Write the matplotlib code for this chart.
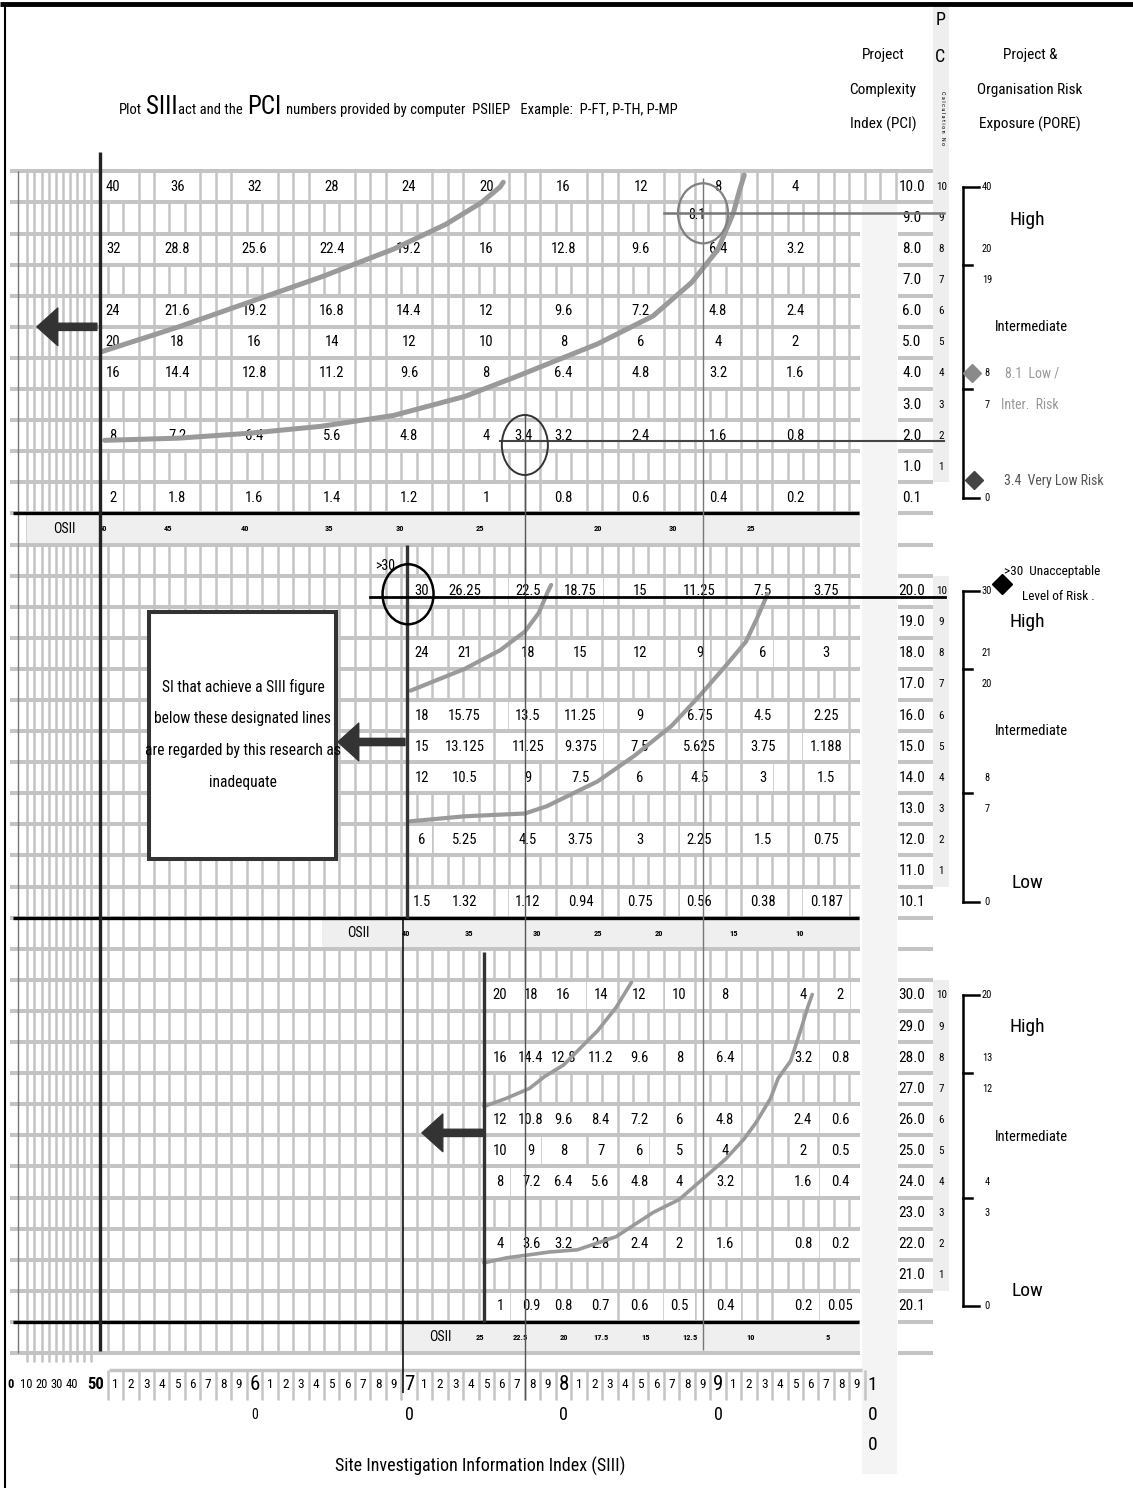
import numpy as np
import matplotlib
matplotlib.use('Agg')
import matplotlib.pyplot as plt
import matplotlib.transforms as mtransforms
from matplotlib import font_manager
from matplotlib.patches import Rectangle, Ellipse

avail = {f.name for f in font_manager.fontManager.ttflist}
FONT = next((f for f in ['Liberation Sans Narrow', 'Roboto Condensed', 'Arial Narrow',
                         'Liberation Sans'] if f in avail), 'DejaVu Sans')
plt.rcParams['font.family'] = [FONT, 'DejaVu Sans']

# ---------------- data ----------------
# cell tables: column positions on the SIII scale, PCI rows, values
top_cols = [50.85, 55, 60, 65, 70, 75, 80, 85, 90, 95]
top_rows = [10, 8, 6, 5, 4, 2, 0.1]
top_vals = [
    ['40', '36', '32', '28', '24', '20', '16', '12', '8', '4'],
    ['32', '28.8', '25.6', '22.4', '19.2', '16', '12.8', '9.6', '6.4', '3.2'],
    ['24', '21.6', '19.2', '16.8', '14.4', '12', '9.6', '7.2', '4.8', '2.4'],
    ['20', '18', '16', '14', '12', '10', '8', '6', '4', '2'],
    ['16', '14.4', '12.8', '11.2', '9.6', '8', '6.4', '4.8', '3.2', '1.6'],
    ['8', '7.2', '6.4', '5.6', '4.8', '4', '3.2', '2.4', '1.6', '0.8'],
    ['2', '1.8', '1.6', '1.4', '1.2', '1', '0.8', '0.6', '0.4', '0.2'],
]
mid_cols = [70.85, 73.6, 77.7, 81.1, 84.95, 88.8, 92.9, 97.0]
mid_rows = [20, 18, 16, 15, 14, 12, 10.1]
mid_vals = [
    ['30', '26.25', '22.5', '18.75', '15', '11.25', '7.5', '3.75'],
    ['24', '21', '18', '15', '12', '9', '6', '3'],
    ['18', '15.75', '13.5', '11.25', '9', '6.75', '4.5', '2.25'],
    ['15', '13.125', '11.25', '9.375', '7.5', '5.625', '3.75', '1.188'],
    ['12', '10.5', '9', '7.5', '6', '4.5', '3', '1.5'],
    ['6', '5.25', '4.5', '3.75', '3', '2.25', '1.5', '0.75'],
    ['1.5', '1.32', '1.12', '0.94', '0.75', '0.56', '0.38', '0.187'],
]
bot_cols = [75.9, 77.9, 80.0, 82.4, 84.9, 87.5, 90.45, 95.5, 97.9]
bot_rows = [30, 28, 26, 25, 24, 22, 20.1]
bot_vals = [
    ['20', '18', '16', '14', '12', '10', '8', '4', '2'],
    ['16', '14.4', '12.8', '11.2', '9.6', '8', '6.4', '3.2', '0.8'],
    ['12', '10.8', '9.6', '8.4', '7.2', '6', '4.8', '2.4', '0.6'],
    ['10', '9', '8', '7', '6', '5', '4', '2', '0.5'],
    ['8', '7.2', '6.4', '5.6', '4.8', '4', '3.2', '1.6', '0.4'],
    ['4', '3.6', '3.2', '2.8', '2.4', '2', '1.6', '0.8', '0.2'],
    ['1', '0.9', '0.8', '0.7', '0.6', '0.5', '0.4', '0.2', '0.05'],
]

top_pci = ['10.0', '9.0', '8.0', '7.0', '6.0', '5.0', '4.0', '3.0', '2.0', '1.0', '0.1']
mid_pci = ['20.0', '19.0', '18.0', '17.0', '16.0', '15.0', '14.0', '13.0', '12.0', '11.0', '10.1']
bot_pci = ['30.0', '29.0', '28.0', '27.0', '26.0', '25.0', '24.0', '23.0', '22.0', '21.0', '20.1']
calc_no = [10, 9, 8, 7, 6, 5, 4, 3, 2, 1]

top_osii = ['50', '45', '40', '35', '30', '25', '20', '30', '25']
top_osii_x = [50.2, 54.4, 59.4, 64.8, 69.4, 74.6, 82.2, 87.1, 92.1]
mid_osii = ['40', '35', '30', '25', '20', '15', '10']
mid_osii_x = [69.8, 73.9, 78.3, 82.2, 86.2, 91.0, 95.3]
bot_osii = ['25', '22.5', '20', '17.5', '15', '12.5', '10', '5']
bot_osii_x = [74.6, 77.2, 80.0, 82.4, 85.3, 88.2, 92.1, 97.1]

# PORE scales
pore_top = ['40', '20', '19', '8', '7', '0']
pore_top_at = [10, 8, 7, 4, 3, 0]
pore_mid = ['30', '21', '20', '8', '7', '0']
pore_mid_at = [20, 18, 17, 14, 13, 10]
pore_bot = ['20', '13', '12', '4', '3', '0']
pore_bot_at = [30, 28, 27, 24, 23, 20]
cat_top = [('High', 8.94), ('Intermediate', 5.5)]
cat_mid = [('High', 19.0), ('Intermediate', 15.5), ('Low', 10.6)]
cat_bot = [('High', 29.0), ('Intermediate', 25.45), ('Low', 20.5)]

# designated lines (SIII, PCI)
top_hi_s = [50.1, 55.1, 59.7, 64.3, 69.0, 72.4, 74.7, 75.9, 76.1]
top_hi_p = [4.7, 5.5, 6.3, 7.1, 8.0, 8.8, 9.5, 10.0, 10.15]
top_lo_s = [50.3, 55.1, 59.7, 64.3, 69.0, 73.6, 77.1, 79.8, 82.2, 85.8, 88.3, 90.0, 91.0, 91.4, 91.7]
top_lo_p = [1.85, 1.92, 2.08, 2.30, 2.65, 3.26, 3.93, 4.47, 4.95, 5.85, 6.93, 7.99, 9.17, 9.90, 10.38]
mid_hi_s = [70.1, 73.6, 75.9, 77.5, 78.4, 79.0, 79.2]
mid_hi_p = [16.8, 17.5, 18.1, 18.7, 19.3, 20.0, 20.2]
mid_lo_s = [70.1, 73.6, 77.5, 78.9, 82.2, 84.6, 87.0, 88.8, 90.5, 91.8, 92.5, 93.2]
mid_lo_p = [12.6, 12.76, 12.85, 13.08, 13.88, 14.71, 15.67, 16.63, 17.6, 18.37, 19.1, 19.9]
bot_hi_s = [74.85, 76.3, 77.8, 78.8, 80.0, 80.9, 82.2, 83.4, 84.4]
bot_hi_p = [26.43, 26.69, 27.01, 27.4, 27.76, 28.21, 28.86, 29.61, 30.42]
bot_lo_s = [74.85, 76.3, 77.8, 79.1, 80.9, 83.4, 85.8, 87.5, 89.0, 90.5, 91.7, 92.5, 93.4, 93.9,
            94.7, 95.4, 95.8, 96.1]
bot_lo_p = [21.4, 21.56, 21.66, 21.75, 21.82, 22.24, 23.02, 23.44, 24.09, 24.74, 25.39, 25.94,
            26.69, 27.34, 27.89, 28.96, 29.61, 30.03]

# worked examples
ex_top_hi = (88.6, 9, '8.1')      # SIII, PCI, PORE
ex_top_lo = (77.4, 2, '3.4')
ex_mid = (69.9, 20, '30')

siii_units = np.arange(51, 100)
left_ticks = [0, 10, 20, 30, 40]

# ---------------- figure ----------------
GREY = '#c4c4c4'
CURVE = '#9a9a9a'
fig = plt.figure(figsize=(11.33, 14.88), dpi=100)
ax = fig.add_axes([0, 0, 1, 1])
ax.set_xlim(43.53, 116.86)
ax.set_ylim(41.84, -6.01)
ax.axis('off')


def panel(off):
    # PCI value p of a panel sits on layout row off - p
    return mtransforms.Affine2D().scale(1, -1).translate(0, off) + ax.transData


tr_top, tr_mid, tr_bot = panel(10), panel(33), panel(56)

# ---- grid ----
row_edges = np.arange(-0.5, 38, 1.0)
ax.hlines(row_edges, 44.2, 99.2, color=GREY, lw=2.9, zorder=1)
ax.hlines(row_edges, 101.65, 103.9, color=GREY, lw=2.9, zorder=1)
ax.hlines([-0.5, 0.5], 99.2, 101.65, color=GREY, lw=2.9, zorder=1)
ax.vlines(np.arange(50.5, 99, 1.0), -0.5, 37.5, color=GREY, lw=1.8, zorder=1)
ax.vlines([99.5, 100.5, 101.5], -0.5, 0.5, color=GREY, lw=1.8, zorder=1)
ax.vlines(np.linspace(45.3, 49.45, 10), -0.5, 37.8, color=GREY, lw=1.8, zorder=1)
ax.vlines(44.7, -0.5, 37.5, color='#777777', lw=1.0, zorder=1)

# strips
ax.add_patch(Rectangle((99.3, 0.5), 2.3, 40.9, fc='#f4f4f4', ec='none', zorder=0.5))
for y0, y1 in [(-5.8, 9.5), (12.5, 22.5), (25.5, 35.5)]:
    ax.add_patch(Rectangle((103.9, y0), 1.05, y1 - y0, fc='#eeeeee', ec='none', zorder=0.5))

# OSII bands
for x0, yb in [(45.3, 10.55), (64.4, 23.55), (69.7, 36.55)]:
    ax.add_patch(Rectangle((x0, yb), 99.2 - x0, 0.9, fc='#efefef', ec='none', zorder=2))
ax.hlines([10.5, 23.5, 36.5], 44.4, 99.1, color='black', lw=2.4, zorder=3)

for labs, xs, row, lx in [(top_osii, top_osii_x, 11, 47.7), (mid_osii, mid_osii_x, 24, 66.7),
                          (bot_osii, bot_osii_x, 37, 72.0)]:
    ax.text(lx, row, 'OSII', ha='center', va='center', fontsize=10, zorder=4)
    for lab, x in zip(labs, xs):
        ax.text(x, row, lab, ha='center', va='center', fontsize=6, fontweight='bold', zorder=4)

# ---- cells ----
cell_box = dict(boxstyle='square,pad=0.45', fc='white', ec='none')
for tr, cols, rows, vals in [(tr_top, top_cols, top_rows, top_vals),
                             (tr_mid, mid_cols, mid_rows, mid_vals),
                             (tr_bot, bot_cols, bot_rows, bot_vals)]:
    for r, row in zip(rows, vals):
        for s, v in zip(cols, row):
            ax.text(s, np.floor(r), v, transform=tr, ha='center', va='center',
                    fontsize=10.5, zorder=4, bbox=cell_box)

for tr, pcis in [(tr_top, top_pci), (tr_mid, mid_pci), (tr_bot, bot_pci)]:
    for lab in pcis:
        ax.text(102.55, np.floor(float(lab)), lab, transform=tr, ha='center', va='center',
                fontsize=11, zorder=4)
    for n, lab in zip(calc_no, pcis):
        ax.text(104.45, np.floor(float(lab)), str(n), transform=tr, ha='center', va='center',
                fontsize=8, zorder=4)

# ---- designated lines ----
for tr, s, p, lw in [(tr_top, top_hi_s, top_hi_p, 3.6), (tr_top, top_lo_s, top_lo_p, 3.6),
                     (tr_mid, mid_hi_s, mid_hi_p, 3.0), (tr_mid, mid_lo_s, mid_lo_p, 3.0),
                     (tr_bot, bot_hi_s, bot_hi_p, 2.6), (tr_bot, bot_lo_s, bot_lo_p, 2.6)]:
    ax.plot(s, p, transform=tr, color=CURVE, lw=lw, solid_capstyle='round',
            solid_joinstyle='round', zorder=5)

# ---- long guide lines ----
ax.vlines(50, -1.13, 37.45, color='#222222', lw=2.4, zorder=6)
ax.vlines(69.9, 11.5, 23.5, color='#333333', lw=2.4, zorder=6)
ax.vlines(69.64, 23.55, 38.8, color='black', lw=1.1, zorder=6)
ax.vlines(74.85, 24.6, 36.5, color='#333333', lw=2.4, zorder=6)
ax.vlines(89.03, -0.3, 37.4, color='#777777', lw=1.0, zorder=6)
ax.vlines(77.5, 7.3, 39.0, color='#555555', lw=1.0, zorder=6)

# worked examples: circles and reading lines
s, p, lab = ex_top_hi
ax.text(s, p + 0.1, lab, transform=tr_top, ha='center', va='center', fontsize=10, zorder=4)
ax.plot([86.5, 104.6], [p + 0.15, p + 0.15], transform=tr_top, color='#777777', lw=1.8, zorder=6)
ax.add_patch(Ellipse((89.03, p + 0.15), 3.24, 1.93, transform=tr_top, fill=False,
                     ec='#808080', lw=1.6, zorder=6))
s, p, lab = ex_top_lo
ax.text(s, p, lab, transform=tr_top, ha='center', va='center', fontsize=10.5, zorder=4, bbox=cell_box)
ax.plot([75.9, 104.6], [p - 0.17, p - 0.17], transform=tr_top, color='#444444', lw=1.5, zorder=6)
ax.add_patch(Ellipse((77.5, p - 0.3), 2.98, 1.93, transform=tr_top, fill=False,
                     ec='#333333', lw=1.4, zorder=6))
s, p, lab = ex_mid
ax.plot([67.5, 104.7], [p - 0.2, p - 0.2], transform=tr_mid, color='black', lw=2.0, zorder=6)
ax.add_patch(Ellipse((69.94, p - 0.1), 3.3, 1.93, transform=tr_mid, fill=False,
                     ec='black', lw=1.8, zorder=6))
ax.text(68.45, p + 0.8, '>' + lab, transform=tr_mid, ha='center', va='center', fontsize=10, zorder=4)

# arrows
arrow = dict(arrowstyle='simple,head_length=0.75,head_width=1.35,tail_width=0.26',
             color='#333333', shrinkA=0, shrinkB=0, mutation_scale=20)
for tr, x0, x1, y in [(tr_top, 49.8, 45.92, 5.5), (tr_mid, 69.74, 65.4, 15.15),
                      (tr_bot, 74.75, 70.84, 25.58)]:
    ax.annotate('', xy=(x1, y), xytext=(x0, y), xycoords=tr, textcoords=tr,
                arrowprops=arrow, zorder=7)

# explanation box
ax.add_patch(Rectangle((53.2, 11.4), 12.1, 7.93, transform=tr_mid, fc='white',
                       ec='#333333', lw=2.9, zorder=7))
ax.text(59.25, 15.4, 'SI that achieve a SIII figure\nbelow these designated lines\n'
        'are regarded by this research as\ninadequate', transform=tr_mid,
        ha='center', va='center', fontsize=11.2, linespacing=2.4, zorder=8)

# ---- PORE scales ----
for tr, labs, at, cats in [(tr_top, pore_top, pore_top_at, cat_top),
                           (tr_mid, pore_mid, pore_mid_at, cat_mid),
                           (tr_bot, pore_bot, pore_bot_at, cat_bot)]:
    ax.plot([105.85, 105.85], [at[-1], at[0]], transform=tr, color='black', lw=1.8, zorder=4)
    for t in [at[0], at[-1]]:
        ax.plot([105.85, 106.9], [t, t], transform=tr, color='black', lw=1.8, zorder=4)
    for t in [(at[1] + at[2]) / 2, (at[3] + at[4]) / 2]:
        ax.plot([105.85, 106.45], [t, t], transform=tr, color='black', lw=1.8, zorder=4)
    for lab, a in zip(labs, at):
        ax.text(107.4, a, lab, transform=tr, ha='center', va='center', fontsize=7.5, zorder=4)
    for name, p in cats:
        size = 10.5 if name == 'Intermediate' else 14
        ax.text(110.3 if name == 'Intermediate' else 110.0, p, name, transform=tr,
                ha='center', va='center', fontsize=size, zorder=4)

ax.plot(106.44, 4.0, marker='D', ms=9, color='#8a8a8a', transform=tr_top, zorder=5)
ax.text(108.6, 4.0, ex_top_hi[2] + '  Low /', transform=tr_top, ha='left', va='center',
        fontsize=10, color='#999999')
ax.text(108.3, 3.0, 'Inter.  Risk', transform=tr_top, ha='left', va='center', fontsize=10,
        color='#999999')
ax.plot(106.6, 0.58, marker='D', ms=9, color='#444444', transform=tr_top, zorder=5)
ax.text(108.5, 0.55, ex_top_lo[2] + '  Very Low Risk', transform=tr_top, ha='left', va='center',
        fontsize=10, color='#555555')
ax.plot(108.4, 20.24, marker='D', ms=10, color='black', transform=tr_mid, zorder=5)
ax.text(111.6, 20.62, '>' + ex_mid[2] + '  Unacceptable', transform=tr_mid, ha='center',
        va='center', fontsize=9.5)
ax.text(112.0, 19.82, 'Level of Risk .', transform=tr_mid, ha='center', va='center', fontsize=9.5)

# ---- header ----
ax.hlines(-5.88, 43.53, 116.86, color='black', lw=3.5, zorder=6)
ax.vlines(43.85, -5.88, 41.84, color='black', lw=1.5, zorder=6)

renderer = fig.canvas.get_renderer()
x = 51.2
for piece, size, gap in [('Plot', 10.5, 0.3), ('SIII', 18, 0.0), ('act and the', 10.5, 0.3),
                         ('PCI', 18, 0.3),
                         ('numbers provided by computer  PSIIEP   Example:  P-FT, P-TH, P-MP', 10.5, 0)]:
    t = ax.text(x, -2.35, piece, ha='left', va='baseline', fontsize=size)
    bb = t.get_window_extent(renderer=renderer)
    x = ax.transData.inverted().transform((bb.x1, bb.y0))[0] + gap

for k, line in enumerate(['Project', 'Complexity', 'Index (PCI)']):
    ax.text(100.68, -4.24 + 1.12 * k, line, ha='center', va='center', fontsize=11)
for k, line in enumerate(['Project &', 'Organisation Risk', 'Exposure (PORE)']):
    ax.text(110.2, -4.24 + 1.12 * k, line, ha='center', va='center', fontsize=11)
ax.text(104.4, -5.37, 'P', ha='center', va='center', fontsize=13)
ax.text(104.4, -4.18, 'C', ha='center', va='center', fontsize=13)
ax.text(104.55, -2.2, 'C a l c u l a t i o n   N o', ha='center', va='center', fontsize=4.5,
        rotation=-90)

# ---- SIII scale ----
ax.hlines(38.06, 50.6, 99.3, color=GREY, lw=2.5, zorder=1)
ax.vlines(np.arange(50.5, 100, 1.0), 38.06, 39.0, color=GREY, lw=1.8, zorder=1)
for v in siii_units:
    if v % 10:
        ax.text(v, 38.52, str(v % 10), ha='center', va='center', fontsize=9.5)
    else:
        ax.text(v, 38.52, str(v // 10), ha='center', va='center', fontsize=15)
        ax.text(v, 39.49, '0', ha='center', va='center', fontsize=10 if v == 60 else 13)
for k, ch in enumerate('100'):
    ax.text(100, 38.52 + 0.965 * k, ch, ha='center', va='center', fontsize=14)
for v in left_ticks:
    ax.text(44.2 + v * 0.1, 38.52, str(v), ha='center', va='center', fontsize=9,
            fontweight='bold' if v == 0 else 'normal')
ax.text(49.75, 38.52, '50', ha='center', va='center', fontsize=12, fontweight='bold')
ax.text(74.6, 41.13, 'Site Investigation Information Index (SIII)', ha='center', va='center',
        fontsize=13)

fig.savefig('out.png', dpi=100)
